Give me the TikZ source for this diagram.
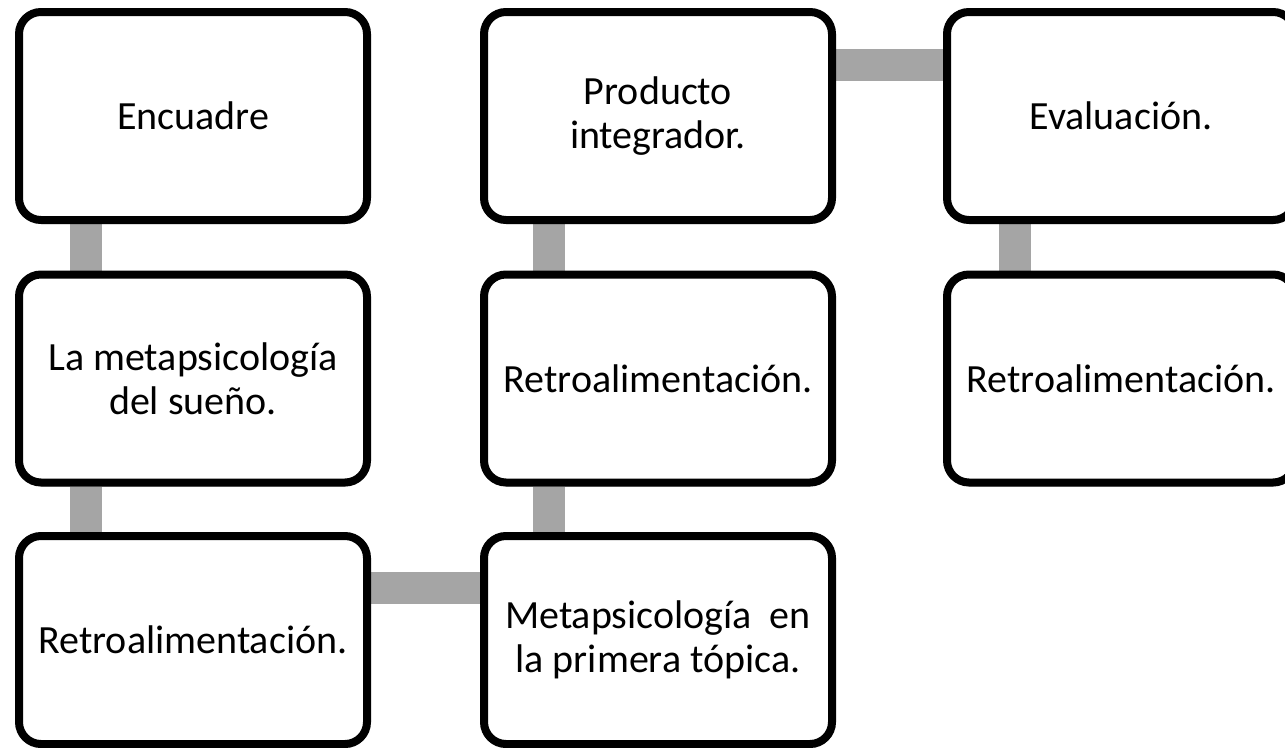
\documentclass[tikz,border=0pt]{standalone}
\usepackage{fontspec}
\setmainfont{Carlito}
\usetikzlibrary{shadows,calc,backgrounds}
\definecolor{bargrey}{HTML}{A5A5A5}
\begin{document}
\begin{tikzpicture}[x=1pt,y=-1pt,
  stepbox/.style={draw=black, fill=white, line width=8pt, rounded corners=22pt,
    minimum width=348pt, minimum height=208pt, inner sep=0pt, align=center,
    font=\fontsize{40}{44}\selectfont,
    drop shadow={shadow xshift=1pt, shadow yshift=-4pt, opacity=0.2, fill=black}},
  conn/.style={draw=bargrey, line width=32pt}]
\useasboundingbox (0,0) rectangle (1285,747);
\clip (0,0) rectangle (1285,747);
% nodes
\node[stepbox] (a) at (193,116) {Encuadre};
\node[stepbox] (b) at (193,378.5) {La metapsicología\\del sueño.};
\node[stepbox] (c) at (193,640) {Retroalimentación.};
\node[stepbox] (d) at (658,640) {Metapsicología\ \ en\\la primera tópica.};
\node[stepbox] (e) at (658,378.5) {Retroalimentación.};
\node[stepbox] (f) at (658,116) {Producto\\integrador.};
\node[stepbox] (g) at (1121,116) {Evaluación.};
\node[stepbox] (h) at (1121,378.5) {Retroalimentación.};
% connectors behind boxes
\begin{scope}[on background layer]
\draw[conn] ($(a.south west)+(71,0)$) -- ($(b.north west)+(71,0)$);
\draw[conn] ($(b.south west)+(71,0)$) -- ($(c.north west)+(71,0)$);
\draw[conn] ($(c.east)+(0,-52)$) -- ($(d.west)+(0,-52)$);
\draw[conn] ($(d.north west)+(69,0)$) -- ($(e.south west)+(69,0)$);
\draw[conn] ($(e.north west)+(69,0)$) -- ($(f.south west)+(69,0)$);
\draw[conn] ($(f.east)+(0,-51)$) -- ($(g.west)+(0,-51)$);
\draw[conn] ($(g.south west)+(72,0)$) -- ($(h.north west)+(72,0)$);
\end{scope}
\end{tikzpicture}
\end{document}
